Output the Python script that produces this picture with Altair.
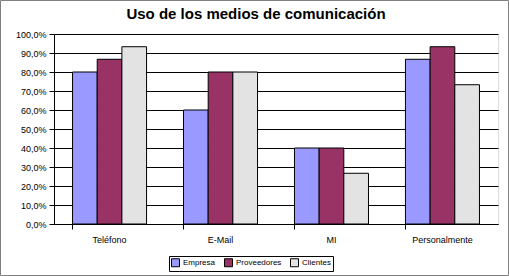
import altair as alt
import pandas as pd

title_text = "Uso de los medios de comunicación"
categories = ["Teléfono", "E-Mail", "MI", "Personalmente"]
series = ["Empresa", "Proveedores", "Clientes"]
empresa = [0.80, 0.60, 0.40, 0.867]
proveedores = [0.867, 0.80, 0.40, 0.933]
clientes = [0.933, 0.80, 0.267, 0.733]
colors = ["#9999FF", "#993366", "#E3E3E3"]

rows = []
for i, c in enumerate(categories):
    for s, vals in zip(series, [empresa, proveedores, clientes]):
        rows.append({"medio": c, "grupo": s, "valor": vals[i]})
df = pd.DataFrame(rows)

font = "Liberation Sans"

bars = alt.Chart(df).mark_bar(stroke="black", strokeWidth=1).encode(
    x=alt.X("medio:N", sort=categories, title=None,
            scale=alt.Scale(paddingInner=0.333, paddingOuter=0.167),
            axis=alt.Axis(labelAngle=0, bandPosition=0, tickColor="black", domainColor="black",
                          tickSize=5, labelPadding=6, labelFontSize=9, labelColor="black",
                          labelFont=font, grid=False)),
    xOffset=alt.XOffset("grupo:N", sort=series),
    y=alt.Y("valor:Q", title=None,
            scale=alt.Scale(domain=[0, 1], nice=False),
            axis=alt.Axis(values=[i / 10 for i in range(11)],
                          labelExpr="replace(format(datum.value, '.1%'), '.', ',')",
                          tickColor="black", domainColor="black", tickSize=5,
                          labelFontSize=9, labelColor="black", labelFont=font,
                          gridColor="black", gridOpacity=1, labelPadding=3)),
    color=alt.Color("grupo:N", sort=series,
                    scale=alt.Scale(domain=series, range=colors),
                    legend=alt.Legend(title=None, orient="none", legendX=115, legendY=222,
                                      direction="horizontal", symbolType="square",
                                      symbolSize=64, symbolStrokeColor="black",
                                      symbolStrokeWidth=1, labelFontSize=8,
                                      labelFont=font, labelColor="black",
                                      strokeColor="black", padding=2,
                                      columnPadding=6, labelOffset=3)),
)

border = alt.Chart(pd.DataFrame({"a": [0]})).mark_rect(
    fill=None, stroke="#808080", strokeWidth=1, clip=False
).encode(x=alt.value(-53.5), x2=alt.value(454.5), y=alt.value(-33.5), y2=alt.value(241.5))

title = alt.Chart(pd.DataFrame({"t": [title_text]})).mark_text(
    font=font, fontSize=15, fontWeight="bold", color="black",
    align="center", baseline="alphabetic", clip=False
).encode(text="t:N", x=alt.value(202), y=alt.value(-15))

chart = alt.layer(bars, border, title).properties(
    width=444, height=190,
    autosize=alt.AutoSizeParams(type="none"),
    padding={"left": 54, "top": 34, "right": 11, "bottom": 52},
).configure_view(stroke="black", strokeWidth=1, fill="#C0C0C0").configure(background="white")

chart.save("out.html", embed_options={"renderer": "svg", "actions": False})
